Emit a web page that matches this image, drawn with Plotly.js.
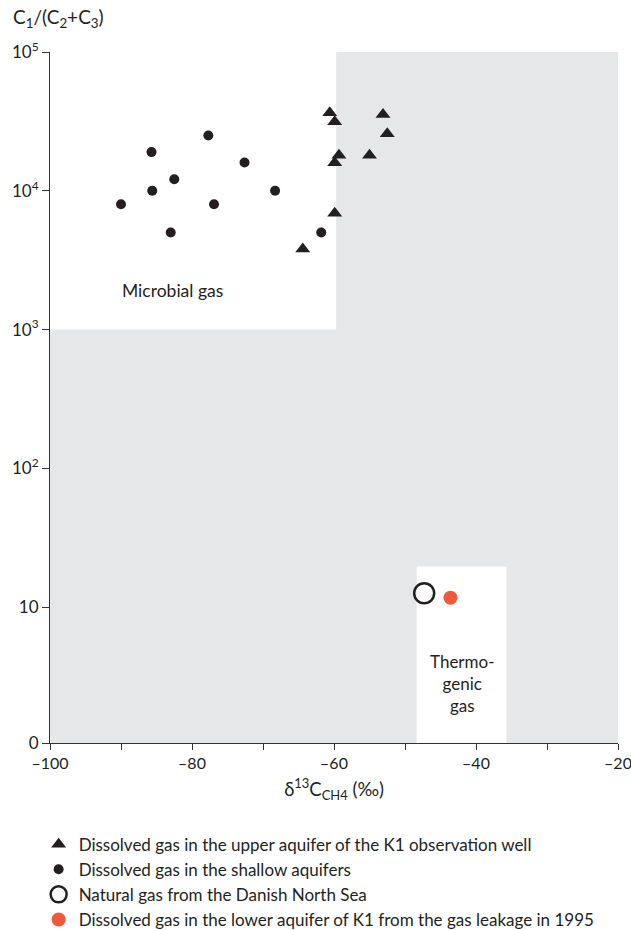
<!DOCTYPE html>
<html>
<head>
<meta charset="utf-8">
<script src="https://cdn.plot.ly/plotly-3.0.1.min.js"></script>
<style>html,body{margin:0;padding:0;background:#fff;}#chart{width:631px;height:930px;}</style>
</head>
<body>
<div id="chart"></div>
<script>
// Dissolved gas in the upper aquifer of the K1 observation well (triangles)
const upperX = [-64.4, -60.6, -59.9, -53.1, -52.5, -59.3, -59.9, -55.0, -59.9];
const upperY = [3800, 36500, 31400, 35500, 25800, 18000, 15900, 18000, 6900];
// Dissolved gas in the shallow aquifers (filled dots)
const shallowX = [-90.0, -85.7, -85.6, -82.5, -83.0, -77.7, -76.9, -72.6, -68.3, -61.8];
const shallowY = [8000, 19000, 10000, 12100, 5000, 25000, 8000, 16000, 10000, 5000];
// Natural gas from the Danish North Sea (open circle)
const northSeaX = [-47.3];
const northSeaY = [12.6];
// Dissolved gas in the lower aquifer of K1 from the gas leakage in 1995 (red dot)
const leakX = [-43.6];
const leakY = [11.7];

const legendNames = [
  'Dissolved gas in the upper aquifer of the K1 observation well',
  'Dissolved gas in the shallow aquifers',
  'Natural gas from the Danish North Sea',
  'Dissolved gas in the lower aquifer of K1 from the gas leakage in 1995'
];

// Field boxes (x0, x1, y0, y1)
const microbialBox = [-100, -59.7, 1000, 100000];
const thermoBox = [-48.35, -35.7, 1.05, 19.6];

// Axis ticks
const xTickVals = [-100, -80, -60, -40, -20];
const xTickText = ['\u2013100', '\u201380', '\u201360', '\u201340', '\u201320'];
const xMinorTickVals = [-90, -70, -50, -30];
const yTickVals = [1.05, 10, 100, 1000, 10000, 100000];
const yTickText = ['0', '10', '10<sup>2</sup>', '10<sup>3</sup>', '10<sup>4</sup>', '10<sup>5</sup>'];

const FONT = 'Lato, "Open Sans", sans-serif';
const INK = '#231f20';

const traces = [
  {x: upperX, y: upperY, name: legendNames[0], type: 'scatter', mode: 'markers', legendgroup: 'a',
   marker: {symbol: 'triangle-up', size: 13, color: INK}},
  {x: shallowX, y: shallowY, name: legendNames[1], type: 'scatter', mode: 'markers', legendgroup: 'b',
   marker: {symbol: 'circle', size: 10, color: INK}},
  {x: northSeaX, y: northSeaY, name: legendNames[2], type: 'scatter', mode: 'markers', legendgroup: 'c',
   marker: {symbol: 'circle-open', size: 20, color: INK, line: {width: 2.5, color: INK}}},
  {x: leakX, y: leakY, name: legendNames[3], type: 'scatter', mode: 'markers', legendgroup: 'd',
   marker: {symbol: 'circle', size: 14, color: '#f05a3a'}}
];

const layout = {
  width: 631, height: 930,
  margin: {l: 50, r: 13, t: 52, b: 187, autoexpand: false},
  paper_bgcolor: '#ffffff',
  plot_bgcolor: '#e6e7e9',
  font: {family: FONT, size: 17, color: INK},
  showlegend: true,
  legend: {x: -0.02, y: -0.121, xanchor: 'left', yanchor: 'top', bgcolor: 'rgba(0,0,0,0)',
           font: {family: FONT, size: 17, color: INK}, tracegroupgap: 0, itemsizing: 'trace'},
  xaxis: {
    range: [-100, -20], showgrid: false, zeroline: false,
    showline: true, linecolor: '#333333', linewidth: 1,
    ticks: 'outside', ticklen: 6, tickcolor: '#333333',
    tickvals: xTickVals, ticktext: xTickText, ticklabeloverflow: 'allow',
    minor: {tickvals: xMinorTickVals, ticks: 'outside', ticklen: 6, tickcolor: '#333333', showgrid: false},
    tickfont: {family: FONT, size: 16, color: INK},
    title: {text: '\u03b4<sup>13</sup>C<sub>CH4</sub> (\u2030)', font: {family: FONT, size: 18.5, color: INK}, standoff: 11}
  },
  yaxis: {
    type: 'log', range: [Math.log10(1.05), 5], showgrid: false, zeroline: false,
    showline: true, linecolor: '#333333', linewidth: 1,
    ticks: 'outside', ticklen: 7, tickcolor: '#333333',
    tickvals: yTickVals, ticktext: yTickText, ticklabeloverflow: 'allow',
    tickfont: {family: FONT, size: 17, color: INK}
  },
  shapes: [
    {type: 'rect', layer: 'below', xref: 'x', yref: 'y',
     x0: microbialBox[0], x1: microbialBox[1], y0: microbialBox[2], y1: microbialBox[3],
     fillcolor: '#ffffff', line: {width: 0}},
    {type: 'rect', layer: 'below', xref: 'x', yref: 'y',
     x0: thermoBox[0], x1: thermoBox[1], y0: thermoBox[2], y1: thermoBox[3],
     fillcolor: '#ffffff', line: {width: 0}}
  ],
  annotations: [
    {text: 'C<sub>1</sub>/(C<sub>2</sub>+C<sub>3</sub>)', xref: 'paper', yref: 'paper',
     x: -0.068, y: 1.049, xanchor: 'left', yanchor: 'middle', showarrow: false,
     font: {family: FONT, size: 19, color: INK}},
    {text: 'Microbial gas', xref: 'x', yref: 'y', x: -82.7, y: Math.log10(1920),
     showarrow: false, font: {family: FONT, size: 17.5, color: INK}},
    {text: 'Thermo-<br>genic<br>gas', xref: 'x', yref: 'y', x: -42.0, y: Math.log10(2.84),
     showarrow: false, align: 'center', font: {family: FONT, size: 17, color: INK}}
  ]
};

Plotly.newPlot('chart', traces, layout, {displayModeBar: false, staticPlot: true});
</script>
</body>
</html>
